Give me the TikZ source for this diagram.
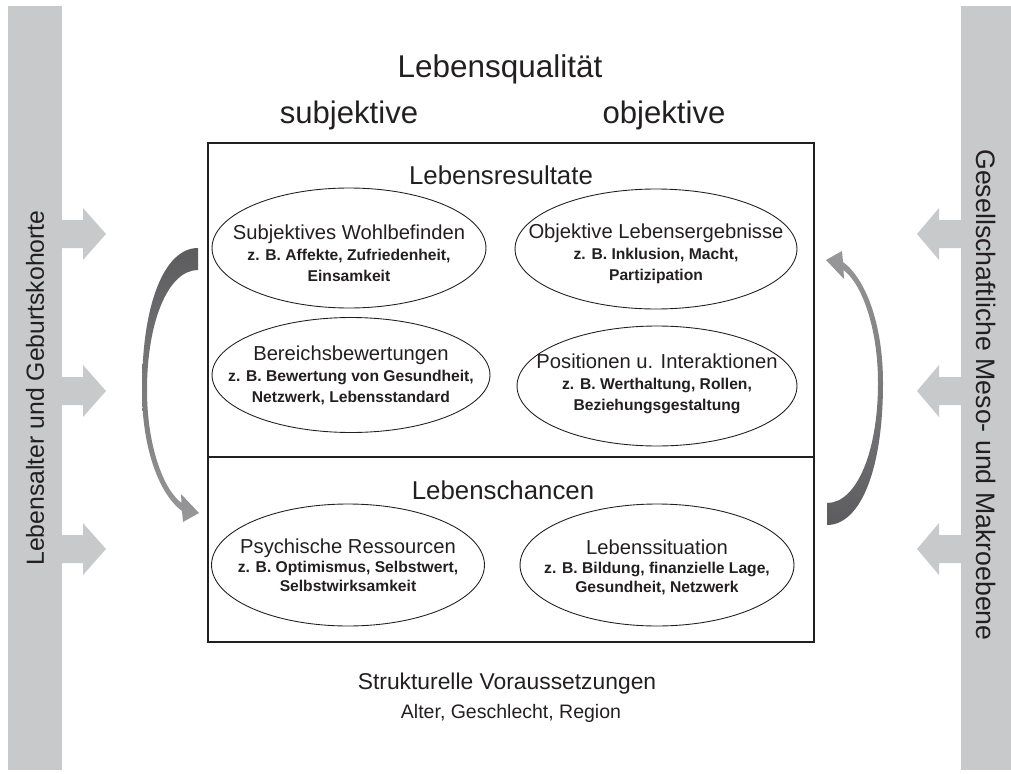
\documentclass[tikz,border=0pt]{standalone}
\usepackage{fontspec}
\setmainfont{Liberation Sans}
\usepackage{xcolor}
\usetikzlibrary{shapes.geometric}
\definecolor{bargray}{RGB}{200,201,203}
\definecolor{inkgray}{RGB}{35,31,32}
\definecolor{arrowdark}{RGB}{92,92,94}
\definecolor{arrowlight}{RGB}{152,152,154}
\tikzstyle{blob} = [draw=inkgray, ellipse, line width=0.5pt, inner sep=0pt]
\tikzstyle{blobtext} = [align=center, text=inkgray, font=\fontsize{8.9}{11.9}\selectfont\bfseries]
\tikzstyle{head} = [text=inkgray, anchor=base]
\newcommand{\blobtitle}[1]{{\fontsize{11.5}{11.9}\selectfont\mdseries #1}}

\begin{document}
\begin{tikzpicture}[x=0.02cm, y=-0.02cm]
    \useasboundingbox (0,0) rectangle (1011,774);
    % side bars with block arrows
    \fill[bargray] (8,6) rectangle (62,770);
    \fill[bargray] (961,6) rectangle (1011,770);
    \foreach \y in {234,391,549} {
        \fill[bargray] (61,\y-14) -- (83,\y-14) -- (83,\y-26) -- (106,\y) -- (83,\y+26) -- (83,\y+14) -- (61,\y+14) -- cycle;
        \fill[bargray] (962,\y-14) -- (939,\y-14) -- (939,\y-26) -- (917,\y) -- (939,\y+26) -- (939,\y+14) -- (962,\y+14) -- cycle;
    }
    \node (age) [rotate=90, text=inkgray, font=\fontsize{14.1}{17}\selectfont] at (35,388) {Lebensalter und Geburtskohorte};
    \node (society) [rotate=-90, text=inkgray, font=\fontsize{15.2}{17}\selectfont] at (986,395) {Gesellschaftliche Meso- und Makroebene};

    % headings
    \node (lq) [head, font=\fontsize{17.9}{20}\selectfont] at (500,77) {Lebensqualität};
    \node (subj) [head, font=\fontsize{17.7}{20}\selectfont] at (349,123) {subjektive};
    \node (obj) [head, font=\fontsize{17.7}{20}\selectfont] at (664,123) {objektive};

    % frame
    \draw[inkgray, line width=1.2pt] (208,143) rectangle (814,642);
    \draw[inkgray, line width=0.6pt] (208,457) -- (814,457);
    \node (res) [head, font=\fontsize{14.7}{17}\selectfont] at (501,184) {Lebensresultate};
    \node (chan) [head, font=\fontsize{14.7}{17}\selectfont] at (503,499) {Lebenschancen};

    % ellipses
    \node (sw) [blob, minimum width=5.48cm, minimum height=2.4cm] at (349,248) {};
    \node (sw-t) [blobtext] at (349,253) {\blobtitle{Subjektives Wohlbefinden}\\z. B. Affekte, Zufriedenheit,\\Einsamkeit};
    \node (ol) [blob, minimum width=5.64cm, minimum height=2.4cm] at (656,249) {};
    \node (ol-t) [blobtext] at (656,254) {\blobtitle{Objektive Lebensergebnisse}\\z. B. Inklusion, Macht,\\Partizipation};
    \node (bb) [blob, minimum width=5.56cm, minimum height=2.3cm] at (351,375) {};
    \node (bb-t) [blobtext] at (351,375) {\blobtitle{Bereichsbewertungen}\\z. B. Bewertung von Gesundheit,\\Netzwerk, Lebensstandard};
    \node (pi) [blob, minimum width=5.6cm, minimum height=2.4cm] at (657,386) {};
    \node (pi-t) [blobtext] at (657,384) {\blobtitle{Positionen u. Interaktionen}\\z. B. Werthaltung, Rollen,\\Beziehungsgestaltung};
    \node (pr) [blob, minimum width=5.46cm, minimum height=2.44cm] at (348,565) {};
    \node (pr-t) [blobtext, font=\fontsize{8.9}{10.8}\selectfont\bfseries] at (348,565) {\blobtitle{Psychische Ressourcen}\\z. B. Optimismus, Selbstwert,\\Selbstwirksamkeit};
    \node (ls) [blob, minimum width=5.48cm, minimum height=2.44cm] at (657,565) {};
    \node (ls-t) [blobtext, font=\fontsize{8.9}{10.8}\selectfont\bfseries] at (657,567) {\blobtitle{Lebenssituation}\\z. B. Bildung, finanzielle Lage,\\Gesundheit, Netzwerk};

    % curved tapered arrows
    \shade[top color=arrowdark, bottom color=arrowlight]
        (198,248) .. controls (165,248) and (142,302) .. (142,390)
        .. controls (142,450) and (160,495) .. (182,511)
        -- (183,522) -- (199,513) -- (181,494) -- (181.5,503)
        .. controls (163,489) and (147,445) .. (147,390)
        .. controls (147,322) and (168,270) .. (198,270) -- cycle;
    \shade[top color=arrowlight, bottom color=arrowdark]
        (827,525) .. controls (860,525) and (883,471) .. (883,383)
        .. controls (883,323) and (865,278) .. (843,262)
        -- (842,251) -- (826,260) -- (844,279) -- (843.5,270)
        .. controls (862,284) and (878,328) .. (878,383)
        .. controls (878,451) and (857,503) .. (827,503) -- cycle;

    % bottom text
    \node (struct) [head, font=\fontsize{13}{15}\selectfont] at (507,689) {Strukturelle Voraussetzungen};
    \node (factors) [head, font=\fontsize{11.1}{13}\selectfont] at (511,718) {Alter, Geschlecht, Region};
\end{tikzpicture}
\end{document}
